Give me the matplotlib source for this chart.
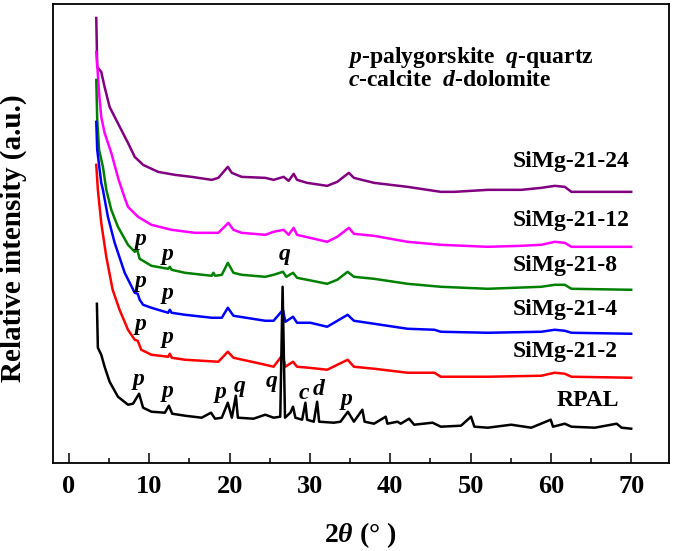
import matplotlib
matplotlib.use("Agg")
import matplotlib.pyplot as plt
from matplotlib.ticker import MultipleLocator

plt.rcParams['font.family'] = ['Liberation Serif', 'DejaVu Serif']
plt.rcParams['font.weight'] = 'bold'
plt.rcParams['axes.labelweight'] = 'bold'
plt.rcParams['mathtext.fontset'] = 'custom'
plt.rcParams['mathtext.rm'] = 'Liberation Serif:bold'
plt.rcParams['mathtext.it'] = 'Liberation Serif:italic:bold'
plt.rcParams['mathtext.bf'] = 'Liberation Serif:bold'

# ---- data (2theta in degrees, relative intensity in arbitrary units, offsets included) ----
x_24 = [3.4, 3.52, 4.02, 4.44, 5.06, 5.69, 6.52, 7.35, 8.19, 9.23, 11.1, 13.19, 15.27, 17.78, 18.6,
        19.78, 20.28, 21.5, 24.44, 25.48, 26.73, 27.35, 27.98, 28.4, 29.65, 32.15, 33.4, 34.85, 35.48,
        37.98, 42.15, 46.3, 47.98, 52.15, 56.3, 58.8, 60.48, 61.73, 62.56, 64.65, 70.0]
y_24 = [445, 396, 391, 376, 356, 346, 333, 320, 306, 298, 291, 288, 286, 283, 285,
        296, 290, 286, 285, 283, 286, 282, 289, 283, 280, 277, 281, 290, 285,
        280, 276, 271, 271, 273, 273, 275, 277, 276, 271, 271, 271]

x_12 = [3.4, 3.52, 3.75, 4.02, 4.44, 5.27, 6.19, 6.94, 7.35, 8.6, 10.27, 12.78, 15.69, 18.6, 19.85,
        20.48, 21.5, 24.44, 25.48, 26.73, 27.35, 27.98, 28.4, 32.15, 33.4, 34.85, 35.48, 37.98, 42.15,
        46.3, 52.15, 56.3, 58.8, 60.48, 61.73, 62.56, 70.0]
y_12 = [411, 398, 370, 346, 330, 310, 283, 265, 256, 246, 238, 233, 230, 230, 240,
        233, 230, 228, 231, 233, 228, 235, 228, 221, 226, 235, 229, 227, 221,
        218, 216, 217, 218, 221, 220, 216, 216]

x_8 = [3.4, 3.52, 3.75, 4.23, 4.65, 5.27, 6.1, 7.35, 8.19, 8.5, 8.8, 9.44, 10.27, 12.35, 12.56, 12.78,
       14.44, 17.78, 17.98, 18.2, 19.03, 19.78, 20.48, 21.5, 24.44, 25.48, 26.65, 27.06, 27.9, 28.4,
       32.15, 33.4, 34.7, 35.48, 37.98, 42.15, 46.3, 52.15, 58.8, 60.48, 61.73, 62.56, 70.0]
y_8 = [383, 343, 313, 296, 273, 253, 236, 218, 211, 213, 204, 201, 197, 194, 196, 193,
       190, 187, 190, 187, 188, 200, 190, 188, 186, 188, 191, 186, 190, 185,
       179, 183, 191, 186, 184, 179, 176, 174, 176, 178, 178, 174, 173]

x_4 = [3.4, 3.52, 4.02, 4.23, 4.85, 5.69, 6.94, 8.19, 8.56, 8.81, 9.23, 10.27, 12.35, 12.56, 12.78,
       14.44, 17.78, 19.03, 19.78, 20.48, 24.44, 25.48, 26.65, 26.94, 27.9, 28.4, 30.06, 32.15, 34.7,
       35.48, 37.15, 42.15, 45.5, 46.3, 52.15, 58.8, 60.48, 61.73, 62.56, 70.0]
y_4 = [341, 313, 280, 273, 246, 220, 190, 170, 169, 163, 158, 155, 150, 153, 150,
       148, 145, 145, 155, 147, 142, 142, 153, 141, 146, 140, 140, 136, 148,
       142, 140, 134, 133, 131, 130, 131, 133, 132, 130, 129]

x_2 = [3.4, 3.6, 4.02, 4.65, 5.44, 6.3, 7.35, 8.19, 8.56, 9.0, 10.27, 12.35, 12.56, 12.8, 14.44,
       18.6, 19.78, 20.48, 24.44, 25.48, 26.6, 26.94, 27.9, 28.4, 29.85, 32.15, 34.7, 35.48, 37.98,
       42.15, 45.5, 46.3, 52.15, 58.8, 60.48, 61.73, 62.56, 70.0]
y_2 = [298, 273, 240, 206, 173, 153, 133, 123, 122, 113, 108, 106, 109, 105, 103,
       101, 111, 105, 98, 96, 108, 96, 101, 96, 95, 93, 103, 96, 94,
       90, 90, 86, 86, 87, 90, 89, 86, 85]

x_r = [3.48, 3.6, 4.02, 4.44, 5.06, 6.1, 7.35, 7.98, 8.73, 9.23, 10.27, 11.94, 12.44, 12.85, 14.44,
       16.52, 17.69, 18.19, 19.03, 19.78, 20.28, 20.78, 21.03, 22.98, 24.44, 25.48, 26.31, 26.6, 26.9,
       27.56, 27.9, 28.19, 29.03, 29.44, 29.65, 30.48, 30.9, 31.15, 32.98, 33.81, 34.73, 35.48, 36.53,
       36.81, 37.98, 39.44, 39.65, 40.9, 41.31, 42.35, 42.98, 45.27, 46.3, 48.81, 50.06, 50.48, 52.15,
       55.06, 57.56, 59.98, 60.27, 61.73, 62.56, 65.48, 68.19, 68.81, 70.0]
y_r = [159, 115, 108, 96, 81, 66, 58, 59, 69, 55, 51, 50, 57, 49, 47,
       45, 50, 44, 45, 60, 45, 67, 45, 44, 48, 45, 46, 176, 45,
       50, 56, 45, 43, 60, 43, 41, 61, 41, 40, 41, 51, 41, 53,
       41, 39, 46, 39, 41, 39, 44, 38, 40, 36, 37, 46, 36, 35,
       38, 35, 43, 36, 39, 36, 35, 39, 35, 34]

series_x = [x_24, x_12, x_8, x_4, x_2, x_r]
series_y = [y_24, y_12, y_8, y_4, y_2, y_r]
names = ['SiMg-21-24', 'SiMg-21-12', 'SiMg-21-8', 'SiMg-21-4', 'SiMg-21-2', 'RPAL']
colors = ['#800080', '#FF00FF', '#008000', '#0000FF', '#FF0000', '#000000']
label_x = [55.3, 55.3, 55.3, 55.3, 55.3, 60.7]
label_y = [301, 242, 197, 153, 111, 62]

# peak markers: (letter, 2theta, y)
mark_letters = ['p', 'p', 'p', 'q', 'q', 'c', 'd', 'p',
                'p', 'p', 'p', 'p', 'p', 'p', 'q']
mark_x = [8.7, 12.3, 18.9, 21.3, 25.2, 29.3, 31.1, 34.6,
          8.9, 12.3, 8.9, 12.3, 8.9, 12.3, 26.9]
mark_y = [83, 71, 70, 76, 81, 69, 73, 63,
          138, 125, 181, 169, 223, 208, 208]

fig = plt.figure(figsize=(6.75, 5.51), dpi=100)
ax = fig.add_axes([0.078, 0.1603, 0.913, 0.8325])

for xs, ys, c in zip(series_x, series_y, colors):
    ax.plot(xs, ys, color=c, lw=1.8, solid_joinstyle='round')

for n, lx, ly in zip(names, label_x, label_y):
    ax.text(lx, ly, n, fontsize=17, fontweight='bold', ha='left', va='center', color='black')

for m, mx, my in zip(mark_letters, mark_x, mark_y):
    ax.text(mx, my, m, fontsize=17, fontweight='bold', style='italic', ha='center', va='center')

ax.text(34.7, 405, r'$p$-palygorskite  $q$-quartz', fontsize=17, ha='left', va='center')
ax.text(34.7, 382, r'$c$-calcite  $d$-dolomite', fontsize=17, ha='left', va='center')

ax.set_xlim(-2.03, 74.7)
ax.set_ylim(0, 459)
ax.xaxis.set_major_locator(MultipleLocator(10))
ax.xaxis.set_minor_locator(MultipleLocator(5))
ax.tick_params(axis='x', which='major', direction='in', length=7, width=1.1, labelsize=19, pad=9,
               top=False)
ax.tick_params(axis='x', which='minor', direction='in', length=3.5, width=1.1, top=False)
ax.set_yticks([])
for lab in ax.get_xticklabels():
    lab.set_fontweight('bold')
for s in ax.spines.values():
    s.set_linewidth(1.3)

ax.set_xlabel(r'2$\theta$ (° )', fontsize=20, fontweight='bold', labelpad=16)
ax.set_ylabel('Relative intensity (a.u.)', fontsize=21, fontweight='bold')
ax.yaxis.set_label_coords(-0.042, 0.49)

fig.savefig('out.png', dpi=100)
